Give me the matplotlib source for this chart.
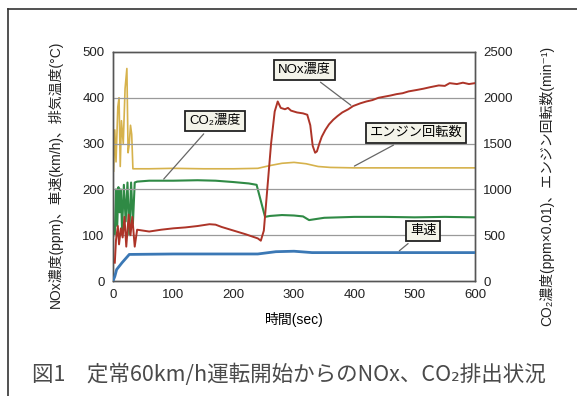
import matplotlib
matplotlib.use('Agg')
import matplotlib.pyplot as plt
from matplotlib.lines import Line2D

plt.rcParams['font.family'] = ['Liberation Sans', 'Noto Sans CJK JP', 'DejaVu Sans']

# engine speed (min^-1), right axis
rpm_t = [1, 3, 5, 8, 10, 12, 14, 17, 20, 23, 25, 27, 29, 31, 33, 60, 100, 150, 200,
         240, 260, 280, 300, 320, 340, 360, 400, 500, 600]
rpm = [1200, 1650, 1300, 1900, 2000, 1250, 1750, 1500, 2100, 2320, 1400, 1500, 1700,
       1600, 1225, 1225, 1230, 1225, 1225, 1230, 1260, 1285, 1295, 1280, 1250, 1240,
       1235, 1235, 1235]

# CO2 (ppm x 0.01), right axis
co2_t = [3, 5, 7, 9, 11, 13, 15, 18, 21, 24, 27, 30, 33, 36, 40, 60, 100, 140, 170,
         200, 225, 238, 245, 252, 260, 280, 300, 315, 325, 335, 350, 400, 450, 500,
         550, 600]
co2 = [500, 1000, 600, 1025, 750, 1000, 550, 1050, 650, 1075, 500, 1075, 625, 1075,
       1085, 1095, 1095, 1100, 1095, 1080, 1065, 1050, 875, 700, 710, 720, 715, 705,
       665, 675, 690, 700, 700, 695, 700, 695]

# NOx (ppm), left axis
nox_t = [3, 5, 8, 10, 13, 16, 19, 22, 26, 29, 32, 36, 40, 50, 60, 80, 100, 120, 140,
         160, 170, 180, 200, 220, 240, 245, 250, 262, 268, 273, 278, 285, 290, 295,
         305, 315, 322, 327, 331, 335, 338, 342, 346, 352, 358, 365, 372, 380, 390,
         398, 410, 420, 430, 440, 448, 460, 470, 480, 490, 503, 515, 525, 540, 550,
         558, 570, 580, 590, 600]
nox = [40, 90, 120, 80, 115, 95, 140, 75, 145, 100, 140, 75, 112, 110, 108, 112, 115,
       117, 120, 124, 123, 118, 110, 102, 93, 88, 110, 300, 370, 392, 378, 375, 378,
       372, 368, 366, 363, 340, 295, 280, 283, 300, 315, 330, 342, 352, 360, 368,
       375, 382, 388, 392, 395, 400, 402, 405, 408, 410, 414, 417, 420, 423, 427,
       426, 432, 430, 433, 430, 432]

# vehicle speed (km/h), left axis
spd_t = [0, 3, 6, 15, 27, 100, 240, 270, 300, 330, 600]
spd = [0, 10, 25, 40, 58, 59, 59, 64, 65, 62, 62]

fig = plt.figure(figsize=(5.77, 3.96), dpi=100)
ax = fig.add_axes([113 / 577, 115 / 396, 362 / 577, 229 / 396])
ax2 = ax.twinx()

ax.set_xlim(0, 600)
ax.set_ylim(0, 500)
ax2.set_ylim(0, 2500)
ax.set_xticks(range(0, 601, 100))
ax.set_yticks(range(0, 501, 100))
ax2.set_yticks(range(0, 2501, 500))
for y in range(100, 500, 100):
    ax.axhline(y, color='#9a9a9a', lw=0.9, zorder=0)

ax2.plot(rpm_t, rpm, color='#d6b24c', lw=1.2)
ax2.plot(co2_t, co2, color='#2f8a45', lw=1.5)
ax.plot(nox_t, nox, color='#ad3428', lw=1.4, zorder=3)
ax.plot(spd_t, spd, color='#3b78b5', lw=2.0, zorder=3)
ax.set_zorder(ax2.get_zorder() + 1)
ax.patch.set_visible(False)

for a in (ax, ax2):
    a.tick_params(length=0, labelsize=9.5, colors='#222222', pad=6)
    for s in a.spines.values():
        s.set_color('#555555')
        s.set_linewidth(1.0)

ax.set_xlabel('時間(sec)', fontsize=10, labelpad=8)
fig.text(55 / 577, 0.56, 'NOx濃度(ppm)、車速(km/h)、排気温度(°C)', rotation=90,
         ha='center', va='center', fontsize=10, color='#222222')
fig.text(547 / 577, 0.53, 'CO₂濃度(ppm×0.01)、エンジン回転数(min⁻¹)', rotation=90,
         ha='center', va='center', fontsize=10, color='#222222')

box = dict(boxstyle='square,pad=0.3', fc='#f4f4ea', ec='#222222', lw=1.3)
arrow = dict(arrowstyle='-', color='#666666', lw=0.9)
ax.annotate('NOx濃度', xy=(398, 380), xytext=(317, 461), fontsize=9.5,
            ha='center', va='center', bbox=box, arrowprops=arrow)
ax.annotate('CO₂濃度', xy=(81, 218), xytext=(169, 349), fontsize=9.5,
            ha='center', va='center', bbox=box, arrowprops=arrow)
ax.annotate('エンジン回転数', xy=(396, 248), xytext=(502, 323), fontsize=9.5,
            ha='center', va='center', bbox=box, arrowprops=arrow)
ax.annotate('車速', xy=(471, 62), xytext=(514, 109), fontsize=9.5,
            ha='center', va='center', bbox=box, arrowprops=arrow)

fig.add_artist(Line2D([8 / 577, 8 / 577], [0, 1 - 9 / 396], transform=fig.transFigure,
                      color='#333333', lw=1.2))
fig.add_artist(Line2D([8 / 577, 1], [1 - 9 / 396, 1 - 9 / 396], transform=fig.transFigure,
                      color='#333333', lw=1.2))

fig.text(32 / 577, 21 / 396, '図1　定常60km/h運転開始からのNOx、CO₂排出状況',
         fontsize=15.5, color='#4a4a4a', ha='left', va='center',
         family=['Noto Sans CJK JP', 'DejaVu Sans'])

fig.savefig('out.png', dpi=100)
